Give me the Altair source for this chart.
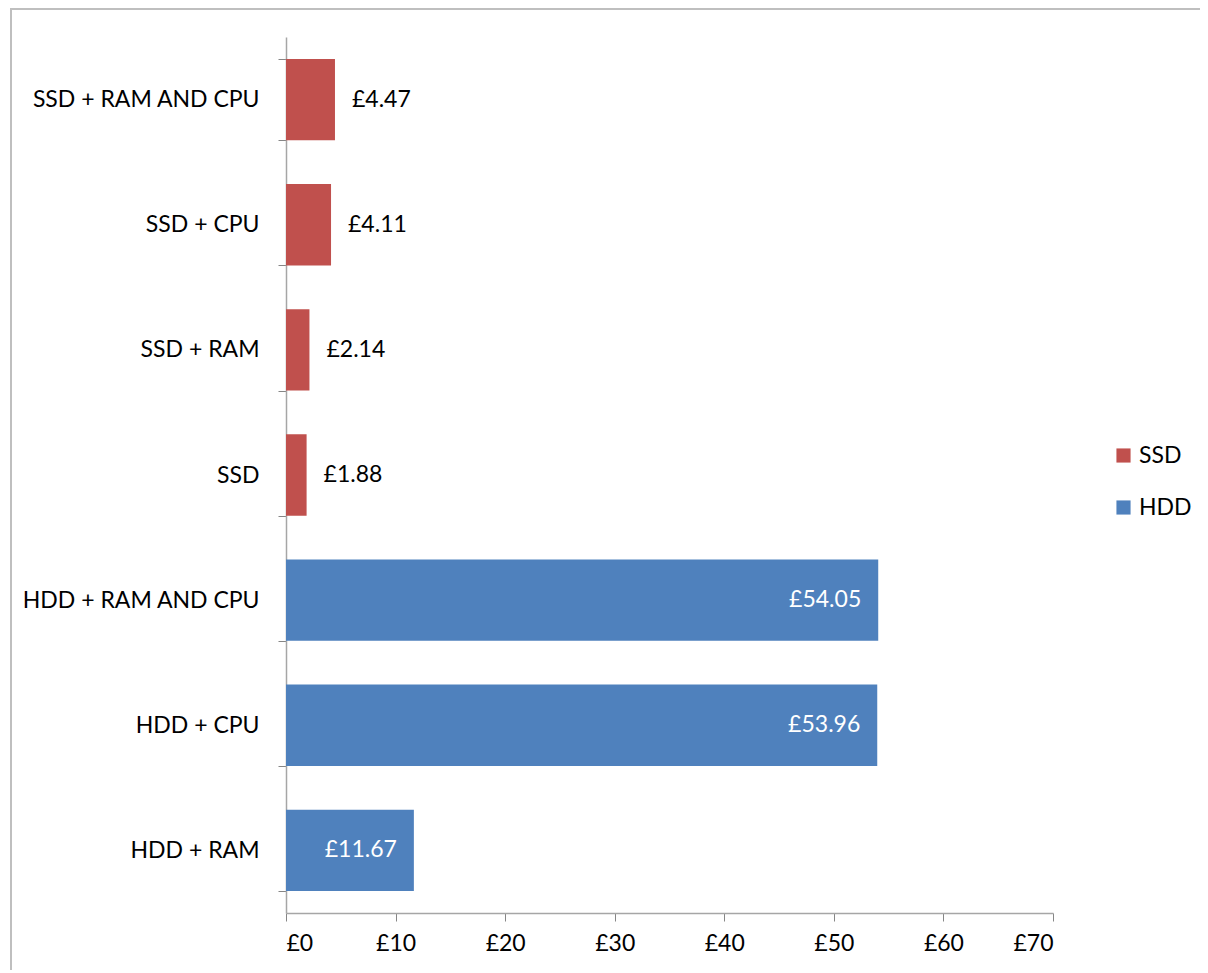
import altair as alt
import pandas as pd

categories = ["SSD + RAM AND CPU", "SSD + CPU", "SSD + RAM", "SSD",
              "HDD + RAM AND CPU", "HDD + CPU", "HDD + RAM"]
values = [4.47, 4.11, 2.14, 1.88, 54.05, 53.96, 11.67]
groups = ["SSD", "SSD", "SSD", "SSD", "HDD", "HDD", "HDD"]
x_ticks = [0, 10, 20, 30, 40, 50, 60, 70]

df = pd.DataFrame({"cat": categories, "value": values, "group": groups})
df["label"] = ["£%.2f" % v for v in values]

FONT = "Lato"
FS = 23
W, H = 767, 876
PAD = {"left": 278, "top": 29, "right": 147, "bottom": 57}

y_enc = alt.Y("cat:N", sort=categories, title=None,
              scale=alt.Scale(paddingInner=0.35, paddingOuter=0.175),
              axis=alt.Axis(tickBand="extent", labelPadding=19, labelLimit=0))
x_enc = alt.X("value:Q", title=None,
              scale=alt.Scale(domain=[0, 70], nice=False),
              axis=alt.Axis(values=x_ticks, labelExpr="'£' + datum.value", grid=False,
                            labelPadding=11))

base = alt.Chart(df)

bars = base.mark_bar().encode(
    x=x_enc,
    y=y_enc,
    color=alt.Color("group:N",
                    scale=alt.Scale(domain=["SSD", "HDD"], range=["#C0504D", "#4F81BD"]),
                    legend=alt.Legend(title=None, orient="none", legendX=826, legendY=407,
                                      symbolType="square", symbolSize=200,
                                      symbolStrokeWidth=0, rowPadding=28, labelOffset=4)),
)

ssd_text = base.transform_filter(alt.datum.group == "SSD").mark_text(
    align="left", baseline="middle", dx=17, fontSize=FS, font=FONT, color="#000000"
).encode(x="value:Q", y=alt.Y("cat:N", sort=categories), text="label:N")

hdd_text = base.transform_filter(alt.datum.group == "HDD").mark_text(
    align="right", baseline="middle", dx=-17, fontSize=FS, font=FONT, color="#FFFFFF"
).encode(x="value:Q", y=alt.Y("cat:N", sort=categories), text="label:N")

one = pd.DataFrame({"a": [0]})
frame_left = alt.Chart(one).mark_rule(stroke="#BFBFBF", strokeWidth=2).encode(
    x=alt.value(-275), y=alt.value(-29), y2=alt.value(H + PAD["bottom"] + 40),
)
frame_top = alt.Chart(one).mark_rule(stroke="#BFBFBF", strokeWidth=2).encode(
    y=alt.value(-28), x=alt.value(-276), x2=alt.value(W + PAD["right"] + 40),
)

chart = alt.layer(frame_left, frame_top, bars, ssd_text, hdd_text).properties(
    width=W, height=H,
    autosize=alt.AutoSizeParams(type="none"),
    padding=PAD,
    background="#FFFFFF",
).configure_view(
    stroke=None
).configure_axis(
    labelFont=FONT, labelFontSize=FS, labelColor="#000000",
    tickSize=8, tickColor="#868686", domainColor="#A6A6A6", domainWidth=1.5,
    labelLimit=0,
).configure_legend(
    labelFont=FONT, labelFontSize=FS, labelColor="#000000",
)

chart.save("out.html", embed_options={"renderer": "svg", "actions": False})
